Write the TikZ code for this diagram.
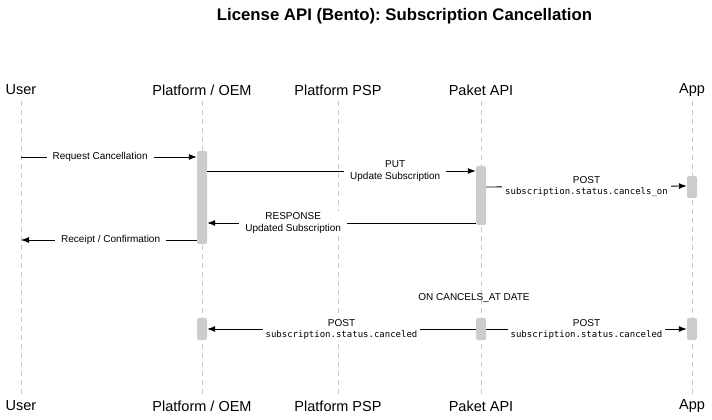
\documentclass[tikz,border=0pt]{standalone}
\usepackage{fontspec}
\setmainfont{Liberation Sans}
\setmonofont{DejaVu Sans Mono}
\usepackage{tikz}
\usetikzlibrary{arrows.meta, positioning, calc}

\newcommand{\apicode}[1]{{\ttfamily\fontsize{9}{11}\selectfont #1}}
\frenchspacing

\begin{document}
\begin{tikzpicture}[x=1pt, y=-1pt, >={Latex[length=8pt,width=6pt]}]
        \tikzset{
            actor/.style={font=\fontsize{14.5}{16}\selectfont, inner sep=0pt},
            lifeline/.style={draw=gray!45, dashed, dash pattern=on 5pt off 4pt},
            activation/.style={draw=none, fill=gray!40, rectangle, rounded corners=2pt, minimum width=10pt, inner sep=0pt},
            msg/.style={->, line width=0.9pt},
            msglabel/.style={fill=white, align=center, font=\fontsize{10}{12}\selectfont, inner xsep=6pt, inner ysep=1.5pt},
            codelabel/.style={msglabel, inner xsep=3pt}
        }
        \useasboundingbox (0,0) rectangle (712,420);

        % title
        \node [font=\bfseries\fontsize{16.75}{19}\selectfont] (title) at (404.5,16) {License API (Bento): Subscription Cancellation};

        % participants, top and bottom
        \foreach \name/\x/\txt in {user/21/User, oem/202/{Platform / OEM}, psp/338/Platform PSP, paket/481/Paket API, app/692/App} {
            \node [actor] (\name top) at (\x,90) {\txt};
            \node [actor] (\name bot) at (\x,406) {\txt};
            \draw [lifeline] (\x,101) -- (\x,395);
        }

        % activations
        \node [activation, minimum height=93pt] (oemact) at (202,197.5) {};
        \node [activation, minimum height=59pt] (paketact) at (481,195.5) {};
        \node [activation, minimum height=22pt] (appact) at (692,187) {};
        \node [activation, minimum height=22pt] (oemact2) at (202,329) {};
        \node [activation, minimum height=22pt] (paketact2) at (481,329) {};
        \node [activation, minimum height=22pt] (appact2) at (692,329) {};

        \coordinate (u1) at (21,157);
        \coordinate (u2) at (21,240);

        % messages
        \draw [msg] (u1) -- node[msglabel, pos=0.45]{Request Cancellation} (oemact.west |- u1);
        \draw [msg] ($(oemact.east)+(0,-26.5)$) -- node[msglabel, pos=0.7]{PUT\\Update Subscription} ($(paketact.west)+(0,-24.5)$);
        \draw [msg] ($(paketact.east)+(0,-8.5)$) -- node[codelabel]{POST\\[-1pt]\apicode{subscription.status.cancels\_on}} ($(appact.west)+(0,-1)$);
        \draw [msg] ($(paketact.west)+(0,27.5)$) -- node[msglabel, pos=0.68]{RESPONSE\\Updated Subscription} ($(oemact.east)+(0,25.5)$);
        \draw [msg] (oemact.west |- u2) -- node[msglabel, pos=0.49]{Receipt / Confirmation} (u2);

        \node [font=\fontsize{10}{12}\selectfont] (ondate) at (474,298) {ON CANCELS\_AT DATE};

        \draw [msg] (paketact2.west) -- node[codelabel, pos=0.5]{POST\\[-1pt]\apicode{subscription.status.canceled}} (oemact2.east);
        \draw [msg] (paketact2.east) -- node[codelabel]{POST\\[-1pt]\apicode{subscription.status.canceled}} (appact2.west);
    \end{tikzpicture}
\end{document}
